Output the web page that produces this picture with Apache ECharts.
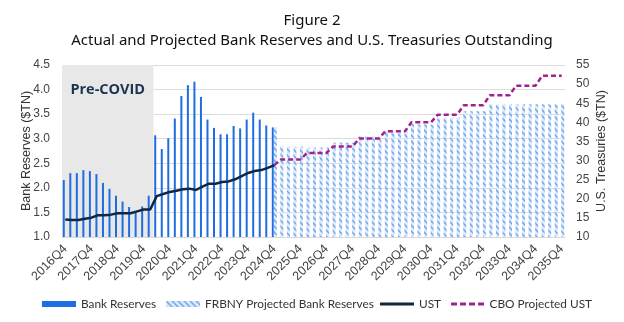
<!DOCTYPE html>
<html><head><meta charset="utf-8">
<script src="https://cdn.jsdelivr.net/npm/echarts@6/dist/echarts.min.js"></script>
<style>html,body{margin:0;padding:0;background:#fff}#c{width:624px;height:322px}</style>
</head><body><div id="c"></div>
<script>
const categories = [
 '2016Q4',
 '2017Q1','2017Q2','2017Q3','2017Q4',
 '2018Q1','2018Q2','2018Q3','2018Q4',
 '2019Q1','2019Q2','2019Q3','2019Q4',
 '2020Q1','2020Q2','2020Q3','2020Q4',
 '2021Q1','2021Q2','2021Q3','2021Q4',
 '2022Q1','2022Q2','2022Q3','2022Q4',
 '2023Q1','2023Q2','2023Q3','2023Q4',
 '2024Q1','2024Q2','2024Q3','2024Q4',
 '2025Q1','2025Q2','2025Q3','2025Q4',
 '2026Q1','2026Q2','2026Q3','2026Q4',
 '2027Q1','2027Q2','2027Q3','2027Q4',
 '2028Q1','2028Q2','2028Q3','2028Q4',
 '2029Q1','2029Q2','2029Q3','2029Q4',
 '2030Q1','2030Q2','2030Q3','2030Q4',
 '2031Q1','2031Q2','2031Q3','2031Q4',
 '2032Q1','2032Q2','2032Q3','2032Q4',
 '2033Q1','2033Q2','2033Q3','2033Q4',
 '2034Q1','2034Q2','2034Q3','2034Q4',
 '2035Q1','2035Q2','2035Q3','2035Q4'
];
// Bank reserves, actual ($TN), 2016Q4..2024Q4
const bankReserves = [
 2.16,
 2.30,2.30,2.36,2.34,
 2.28,2.10,1.98,1.84,
 1.72,1.61,1.52,1.62,
 1.84,3.07,2.79,3.01,
 3.41,3.87,4.09,4.16,
 3.85,3.39,3.22,3.09,
 3.09,3.26,3.21,3.39,
 3.53,3.39,3.27,3.23
];
// FRBNY projected bank reserves, 2024Q4..2035Q4
const projReserves = [
 3.23,
 2.84,2.84,2.84,2.84,
 2.82,2.82,2.82,2.82,
 2.92,2.92,2.92,2.92,
 3.05,3.05,3.05,3.05,
 3.15,3.15,3.15,3.15,
 3.30,3.29,3.29,3.29,
 3.43,3.43,3.43,3.43,
 3.56,3.56,3.56,3.56,
 3.70,3.70,3.70,3.70,
 3.70,3.70,3.70,3.70,
 3.70,3.70,3.70,3.70
];
// U.S. Treasuries outstanding ($TN), 2016Q4..2024Q4
const ust = [
 14.6,
 14.45,14.45,14.8,15.05,
 15.7,15.7,15.85,16.2,
 16.2,16.2,16.7,17.2,
 17.2,20.7,21.25,21.8,
 22.1,22.5,22.65,22.3,
 23.2,23.95,23.95,24.4,
 24.55,25.1,25.95,26.75,
 27.25,27.5,28.1,28.8
];
// CBO projected UST ($TN), 2024Q4..2035Q4
const cboUst = [
 28.8,
 30.3,30.3,30.3,30.3,
 32.0,32.0,32.0,32.0,
 33.7,33.7,33.7,33.7,
 35.8,35.8,35.8,35.8,
 37.65,37.65,37.65,37.65,
 40.0,40.0,40.0,40.0,
 42.0,42.0,42.0,42.0,
 44.5,44.5,44.5,44.5,
 47.1,47.1,47.1,47.1,
 49.6,49.6,49.6,49.6,
 52.2,52.2,52.2,52.2
];
const leftTicks = {min:1.0, max:4.5, interval:0.5};
const rightTicks = {min:10, max:55, interval:5};

const startProj = categories.indexOf('2024Q4');
const pad = (arr, before, total) => {
  const out = new Array(total).fill(null);
  arr.forEach((v,i)=>{ out[before+i]=v; });
  return out;
};
const N = categories.length;

// hatch pattern
const pc = document.createElement('canvas');
pc.width = 6; pc.height = 6;
const g = pc.getContext('2d');
g.fillStyle = '#DCE9FB'; g.fillRect(0,0,6,6);
g.strokeStyle = '#6FA6EC'; g.lineWidth = 1.5;
g.beginPath();
g.moveTo(-1,-1); g.lineTo(7,7);
g.moveTo(-4,2); g.lineTo(4,10);
g.moveTo(2,-4); g.lineTo(10,4);
g.stroke();
const hatch = {image: pc, repeat: 'repeat'};

const font = '"Liberation Sans", Arial, sans-serif';
const legFont = {fontFamily:'Lato, sans-serif', fontSize:11.8, color:'#333'};
const chart = echarts.init(document.getElementById('c'), null, {renderer:'canvas'});
chart.setOption({
  animation:false,
  title:{
    text:'Figure 2\nActual and Projected Bank Reserves and U.S. Treasuries Outstanding',
    left:'center', top:6,
    textStyle:{fontFamily:'"Noto Sans", sans-serif', fontWeight:'normal', fontSize:15, color:'#111', lineHeight:20}
  },
  grid:{left:62, right:59, top:65, bottom:85},
  legend:[
    {left:37, top:293, itemGap:10, itemWidth:34, itemHeight:6, textStyle:legFont,
     data:[{name:'Bank Reserves', icon:'rect'},{name:'FRBNY Projected Bank Reserves', icon:'rect'}]},
    {left:375, top:293, itemGap:10, itemWidth:34, itemHeight:3, textStyle:legFont,
     data:[{name:'UST', icon:'rect'},
           {name:'CBO Projected UST', icon:'path://M0,0h6v3h-6z M9,0h6v3h-6z M18,0h6v3h-6z M27,0h6v3h-6z'}]}
  ],
  xAxis:{
    type:'category', data:categories, boundaryGap:true,
    axisTick:{show:false},
    axisLine:{lineStyle:{color:'#D9D9D9'}},
    axisLabel:{interval:3, rotate:45, fontFamily:font, fontSize:12.5, color:'#444', margin:10}
  },
  yAxis:[
    {type:'value', min:leftTicks.min, max:leftTicks.max, interval:leftTicks.interval,
     name:'Bank Reserves ($TN)', nameLocation:'middle', nameGap:29, nameRotate:90, nameMoveOverlap:false,
     nameTextStyle:{fontFamily:font, fontSize:12.5, color:'#333'},
     axisLabel:{formatter:v=>v.toFixed(1), fontFamily:font, fontSize:12, color:'#444', margin:12},
     splitLine:{lineStyle:{color:'#DCDCDC'}}, axisLine:{show:false}, axisTick:{show:false}},
    {type:'value', min:rightTicks.min, max:rightTicks.max, interval:rightTicks.interval,
     name:'U.S. Treasuries ($TN)', nameLocation:'middle', nameGap:30, nameRotate:90, nameMoveOverlap:false,
     nameTextStyle:{fontFamily:font, fontSize:12.5, color:'#333'},
     axisLabel:{fontFamily:font, fontSize:12, color:'#444', margin:11},
     splitLine:{show:false}, axisLine:{show:false}, axisTick:{show:false}}
  ],
  series:[
    {name:'Bank Reserves', type:'bar', yAxisIndex:0, data:pad(bankReserves,0,N),
     barWidth:2, barGap:'0%', itemStyle:{color:'#1F6EE0'},
     markArea:{silent:true, itemStyle:{color:'#E8E8E8'},
       label:{show:true, position:'insideTop', distance:17, formatter:'Pre-COVID',
              fontFamily:'"Open Sans", sans-serif', fontWeight:'bold', fontSize:14.5, color:'#1B3550'},
       data:[[{xAxis:'2016Q4'},{xAxis:'2020Q1'}]]}},
    {name:'FRBNY Projected Bank Reserves', type:'bar', yAxisIndex:0, data:pad(projReserves,startProj,N),
     barWidth:3, itemStyle:{color:hatch}},
    {name:'UST', type:'line', yAxisIndex:1, data:pad(ust,0,N), symbol:'none',
     lineStyle:{color:'#0E2841', width:2.5}, itemStyle:{color:'#0E2841'}, z:5},
    {name:'CBO Projected UST', type:'line', yAxisIndex:1, data:pad(cboUst,startProj,N), symbol:'none',
     lineStyle:{color:'#A0228F', width:2.5, type:[5,3]}, itemStyle:{color:'#A0228F'}, z:4}
  ]
});
</script></body></html>
